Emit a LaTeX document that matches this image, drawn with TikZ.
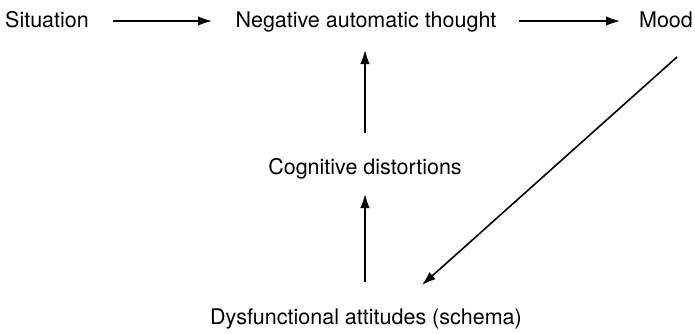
\documentclass[tikz,border=0pt]{standalone}
\usepackage{fontspec}
\setmainfont{TeX Gyre Heros}
\usetikzlibrary{arrows.meta}
\begin{document}
\begin{tikzpicture}[x=1pt,y=-1pt,
  lbl/.style={inner sep=0pt, font=\fontsize{21.5}{25}\selectfont, anchor=base},
  arr/.style={line width=1.6pt, -{Latex[length=14pt,width=9.5pt]}}]
\useasboundingbox (0,0) rectangle (695,333);
\node[lbl] (sit) at (47,27) {Situation};
\node[lbl] (nat) at (366,27) {Negative automatic thought};
\node[lbl] (mood) at (666,27) {Mood};
\node[lbl] (cog) at (365,174) {Cognitive distortions};
\node[lbl] (dys) at (366,324) {Dysfunctional attitudes (schema)};
\coordinate (a1s) at (113,21); \coordinate (a1e) at (212,21);
\coordinate (a2s) at (519,21); \coordinate (a2e) at (620,21);
\coordinate (v1s) at (365,133); \coordinate (v1e) at (365,50);
\coordinate (v2s) at (365,282); \coordinate (v2e) at (365,194);
\coordinate (ds) at (677,57); \coordinate (de) at (422,285);
\draw[arr] (a1s) -- (a1e);
\draw[arr] (a2s) -- (a2e);
\draw[arr] (v1s) -- (v1e);
\draw[arr] (v2s) -- (v2e);
\draw[arr] (ds) -- (de);
\end{tikzpicture}
\end{document}
